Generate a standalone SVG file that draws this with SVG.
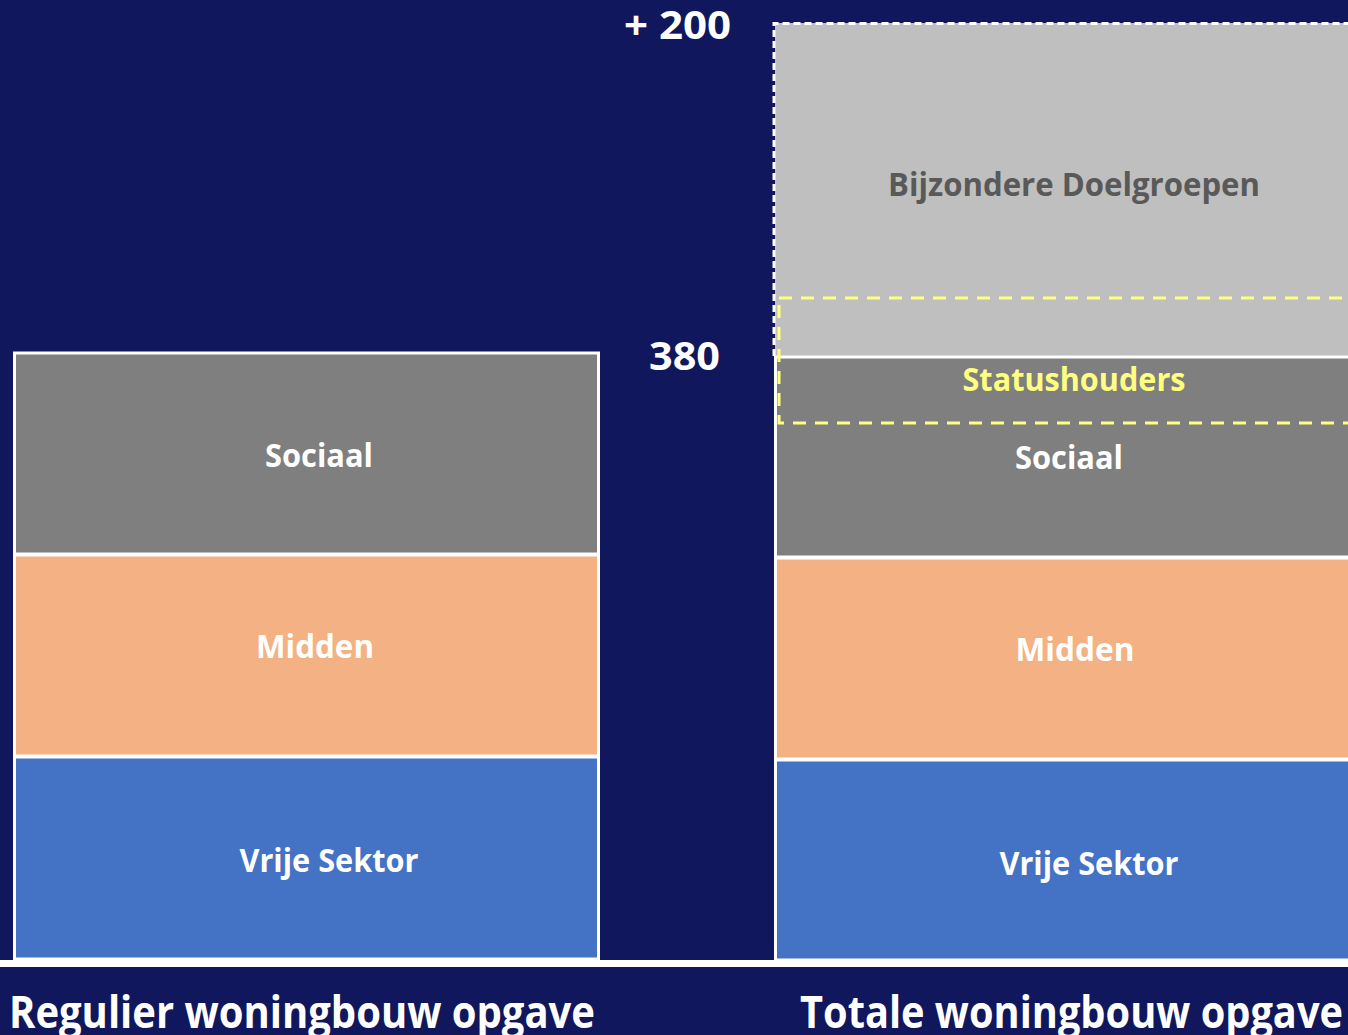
<svg xmlns="http://www.w3.org/2000/svg" width="1348" height="1035" viewBox="0 0 1348 1035">
<style>
.t{font-family:"Open Sans","Noto Sans","Liberation Sans",sans-serif;font-weight:700;text-anchor:middle}
.w{fill:#ffffff}
.seg{stroke:#ffffff;stroke-width:3}
</style>
<rect x="0" y="0" width="1348" height="1035" fill="#10175c"/>
<rect x="0" y="960" width="1348" height="7" fill="#ffffff"/>
<g id="left-bar">
<g id="l-sociaal"><rect class="seg" x="14.5" y="353" width="584" height="201" fill="#7f7f7f"/><text class="t w" x="319" y="467" font-size="32" textLength="108" lengthAdjust="spacingAndGlyphs">Sociaal</text></g>
<g id="l-midden"><rect class="seg" x="14.5" y="555" width="584" height="201" fill="#f4b183"/><text class="t w" x="315" y="658" font-size="32" textLength="118" lengthAdjust="spacingAndGlyphs">Midden</text></g>
<g id="l-vrije"><rect class="seg" x="14.5" y="757" width="584" height="202" fill="#4472c4"/><text class="t w" x="329" y="872" font-size="32" textLength="179" lengthAdjust="spacingAndGlyphs">Vrije Sektor</text></g>
</g>
<g id="right-bar">
<g id="r-bijzondere"><rect x="775" y="23" width="580" height="333" fill="#bfbfbf"/><text class="t" x="1074" y="196" font-size="32" fill="#595959" textLength="372" lengthAdjust="spacingAndGlyphs">Bijzondere Doelgroepen</text></g>
<g id="r-sociaal"><rect class="seg" x="775.5" y="357" width="580" height="200" fill="#7f7f7f"/><text class="t w" x="1069" y="469" font-size="32" textLength="108" lengthAdjust="spacingAndGlyphs">Sociaal</text></g>
<g id="r-midden"><rect class="seg" x="775.5" y="558" width="580" height="201" fill="#f4b183"/><text class="t w" x="1075" y="661" font-size="32" textLength="119" lengthAdjust="spacingAndGlyphs">Midden</text></g>
<g id="r-vrije"><rect class="seg" x="775.5" y="760" width="580" height="200" fill="#4472c4"/><text class="t w" x="1089" y="875" font-size="32" textLength="179" lengthAdjust="spacingAndGlyphs">Vrije Sektor</text></g>
<g id="r-extra-border"><path d="M774 356 V23.5 H1348" fill="none" stroke="#ffffff" stroke-width="3" stroke-dasharray="7 4"/></g>
<g id="r-statushouders"><rect x="779" y="298" width="600" height="125" fill="none" stroke="#ffff80" stroke-width="3" stroke-dasharray="13 9"/><text class="t" x="1074" y="391" font-size="32" fill="#ffff80" textLength="223" lengthAdjust="spacingAndGlyphs">Statushouders</text></g>
</g>
<g id="values">
<text class="t w" x="677.5" y="39" font-size="40" textLength="107" lengthAdjust="spacingAndGlyphs">+ 200</text>
<text class="t w" x="684.5" y="370" font-size="40" textLength="71" lengthAdjust="spacingAndGlyphs">380</text>
</g>
<g id="labels">
<text class="t w" x="302" y="1028" font-size="44" textLength="586" lengthAdjust="spacingAndGlyphs">Regulier woningbouw opgave</text>
<text class="t w" x="1071.5" y="1028" font-size="44" textLength="543" lengthAdjust="spacingAndGlyphs">Totale woningbouw opgave</text>
</g>
<g id="connectors"/>
</svg>
